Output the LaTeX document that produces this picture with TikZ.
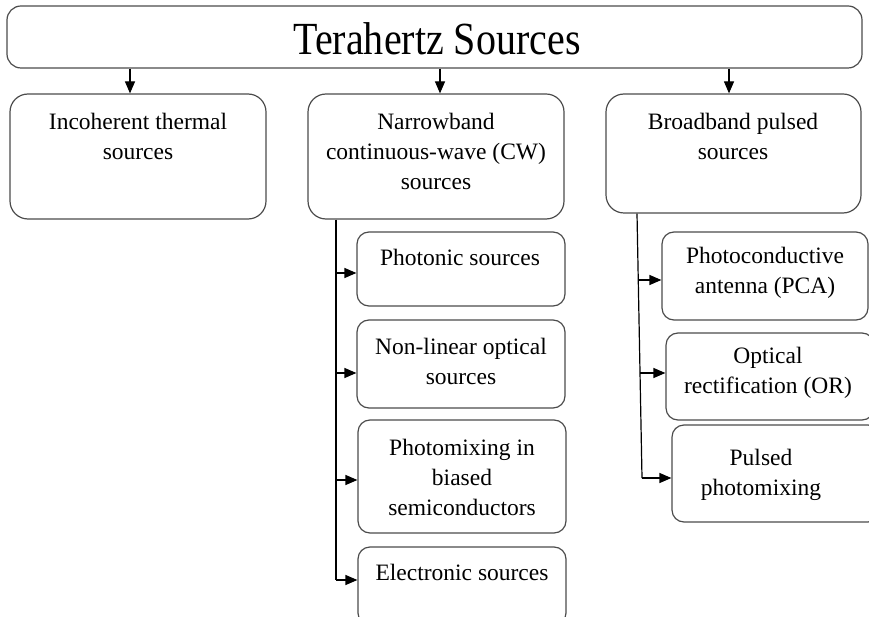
\documentclass[tikz,border=0pt]{standalone}
\usepackage{fontspec}
\setmainfont{Liberation Serif}
\usetikzlibrary{arrows.meta,calc}
\begin{document}
\begin{tikzpicture}[x=1pt,y=-1pt,
  box/.style={draw=black!70,line width=1.2pt,rounded corners=#1,inner sep=0pt},
  box/.default=18pt,
  lbl/.style={align=center,font=\fontsize{23.5}{30}\selectfont,inner sep=0pt,text=black},
  arr/.style={line width=1.2pt,-{Triangle[length=12pt,width=10pt]}},
  trunk/.style={line width=1.2pt}]
\useasboundingbox (0,0) rectangle (869,617);
% boxes
\node[box=14pt,minimum width=855pt,minimum height=62pt] (top) at (434.5,37) {};
\node[box,minimum width=256pt,minimum height=125pt] (b1) at (138,156.5) {};
\node[box,minimum width=256pt,minimum height=125pt] (b2) at (436,156.5) {};
\node[box,minimum width=255pt,minimum height=119pt] (b3) at (733.5,153.5) {};
\node[box=12pt,minimum width=208pt,minimum height=74pt] (p1) at (461,269) {};
\node[box=12pt,minimum width=208pt,minimum height=88pt] (p2) at (461,364) {};
\node[box=12pt,minimum width=208pt,minimum height=113pt] (p3) at (462,476.5) {};
\node[box=12pt,minimum width=208pt,minimum height=78pt] (p4) at (462,586) {};
\node[box=12pt,minimum width=206pt,minimum height=88pt] (r1) at (765,276) {};
\node[box=12pt,minimum width=208pt,minimum height=87pt] (r2) at (770,376.5) {};
\node[box=12pt,minimum width=208pt,minimum height=97pt] (r3) at (776,473.5) {};
% texts
\node[inner sep=0pt,font=\fontsize{40}{40}\selectfont] (ttop) at (437,39) {\scalebox{1}[1.15]{Terahertz Sources}};
\node[lbl] (tb1) at (138,136) {Incoherent thermal\\sources};
\node[lbl] (tb2) at (436,151) {Narrowband\\continuous-wave (CW)\\sources};
\node[lbl] (tb3) at (733,136) {Broadband pulsed\\sources};
\node[lbl] (tp1) at (460,257) {Photonic sources};
\node[lbl] (tp2) at (461,361) {Non-linear optical\\sources};
\node[lbl] (tp3) at (462,477) {Photomixing in\\biased\\semiconductors};
\node[lbl] (tp4) at (462,572) {Electronic sources};
\node[lbl] (tr1) at (765,273) {Photoconductive\\antenna (PCA)};
\node[lbl] (tr2) at (768,373) {Optical\\rectification (OR)};
\node[lbl] (tr3) at (761,475) {Pulsed\\photomixing};
% top arrows
\draw[arr] (top.south -| 130,0) -- (b1.north -| 130,0);
\draw[arr] (top.south -| 440,0) -- (b2.north -| 440,0);
\draw[arr] (top.south -| 729,0) -- (b3.north -| 729,0);
% middle trunk
\coordinate (m0) at (b2.south -| 336,0);
\coordinate (m1) at (336,273);
\coordinate (m2) at (336,373);
\coordinate (m3) at (336,480);
\coordinate (m4) at (336,580);
\draw[trunk] (m0) -- (m4);
\draw[arr] (m1) -- (m1 -| p1.west);
\draw[arr] (m2) -- (m2 -| p2.west);
\draw[arr] (m3) -- (m3 -| p3.west);
\draw[arr] (m4) -- (m4 -| p4.west);
% right trunk
\coordinate (n0) at (b3.south -| 637,0);
\coordinate (n1) at (638.2,280);
\coordinate (n2) at (640,373);
\coordinate (n3) at (642,478);
\draw[trunk] (n0) -- (n3);
\draw[arr] (n1) -- (n1 -| r1.west);
\draw[arr] (n2) -- (n2 -| r2.west);
\draw[arr] (n3) -- (n3 -| r3.west);
\end{tikzpicture}
\end{document}
